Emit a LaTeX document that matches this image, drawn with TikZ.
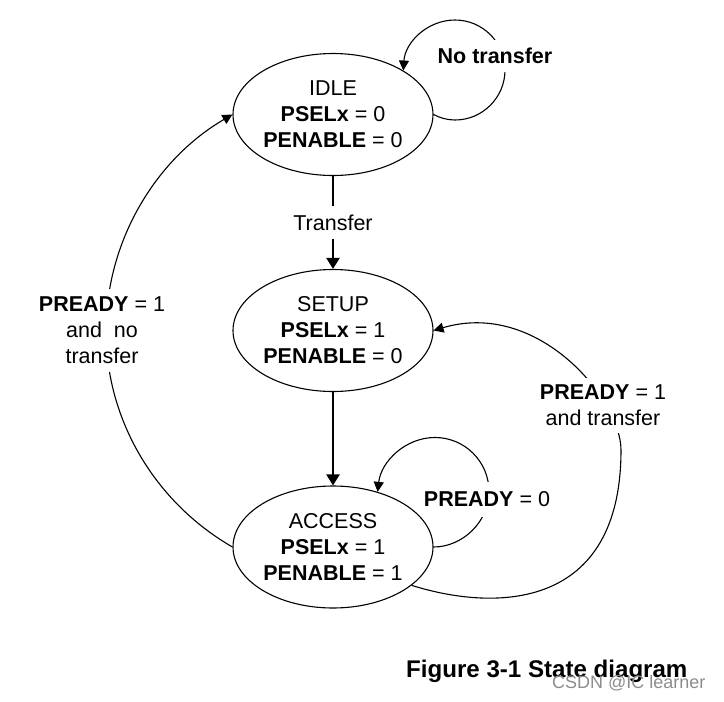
\documentclass[tikz,border=0pt]{standalone}
\usepackage{fontspec}
\setmainfont{Liberation Sans}
\usetikzlibrary{shapes.geometric,arrows.meta}
\newcommand{\fsz}{\fontsize{21.5}{26}\selectfont}
\begin{document}
\begin{tikzpicture}[x=1pt,y=-1pt,
  state/.style={ellipse, draw, line width=1.1pt, minimum width=200pt, minimum height=122pt, inner sep=0pt, align=center, font=\fsz},
  tline/.style={line width=1.1pt, -{Triangle[length=10pt,width=10pt]}},
  bline/.style={line width=2.2pt, -{Triangle[length=11pt,width=13pt]}},
  lbl/.style={fill=white, align=center, font=\fsz, inner xsep=1pt}
]
\useasboundingbox (0,0) rectangle (724,702);

\node[state] (idle) at (333,114.5) {IDLE\\\textbf{PSELx} = 0\\\textbf{PENABLE} = 0};
\node[state] (setup) at (333,330.5) {SETUP\\\textbf{PSELx} = 1\\\textbf{PENABLE} = 0};
\node[state] (access) at (333,547) {ACCESS\\\textbf{PSELx} = 1\\\textbf{PENABLE} = 1};

\draw[bline] (idle.south) -- node[lbl, inner ysep=9pt] (tr) {Transfer} (setup.north);
\draw[bline] (setup.south) -- (access.north);

% No transfer loop
\draw[tline] (idle.east) .. controls (439.9,117.9) and (447.3,120) .. (455,120)
  .. controls (482.6,120) and (505,97.4) .. (505,70)
  .. controls (505,42.4) and (482.6,20) .. (455,20)
  .. controls (427.4,20) and (405,42.4) .. (idle.32);
\node[lbl, inner ysep=8pt] (nt) at (495,56) {\textbf{No transfer}};

% PREADY = 0 loop
\draw[tline] (access.east) .. controls (463,547) and (489,521.3) .. (489,491.5)
  .. controls (489,461.7) and (464.8,437.5) .. (435,437.5)
  .. controls (405.2,437.5) and (381,461.7) .. (access.51);
\node[lbl, inner ysep=10pt] (p0) at (487,499.5) {\textbf{PREADY} = 0};

% PREADY = 1 and transfer
\draw[tline] (access.-26) .. controls (496.4,612) and (621,610) .. (621,450)
  .. controls (621,400) and (538.5,299.3) .. (setup.east);
\node[lbl, inner ysep=7pt] (p1t) at (603,405) {\textbf{PREADY} = 1\\and transfer};

% PREADY = 1 and no transfer
\draw[tline] (access.west) .. controls (154.9,502.3) and (106,420) .. (106,331)
  .. controls (106,242) and (154.9,159.7) .. (idle.west);
\node[lbl, inner ysep=8pt] (p1n) at (102,330.5) {\textbf{PREADY} = 1\\and\ \ no\\transfer};

\node[anchor=base west, font=\bfseries\fontsize{24.1}{29}\selectfont, inner sep=0pt] (cap) at (406,677.5) {Figure 3-1 State diagram};
\node[anchor=base west, font=\fontsize{18}{22}\selectfont, text=black!45, inner sep=0pt] (wm) at (552,688) {CSDN @IC learner};
\end{tikzpicture}
\end{document}
